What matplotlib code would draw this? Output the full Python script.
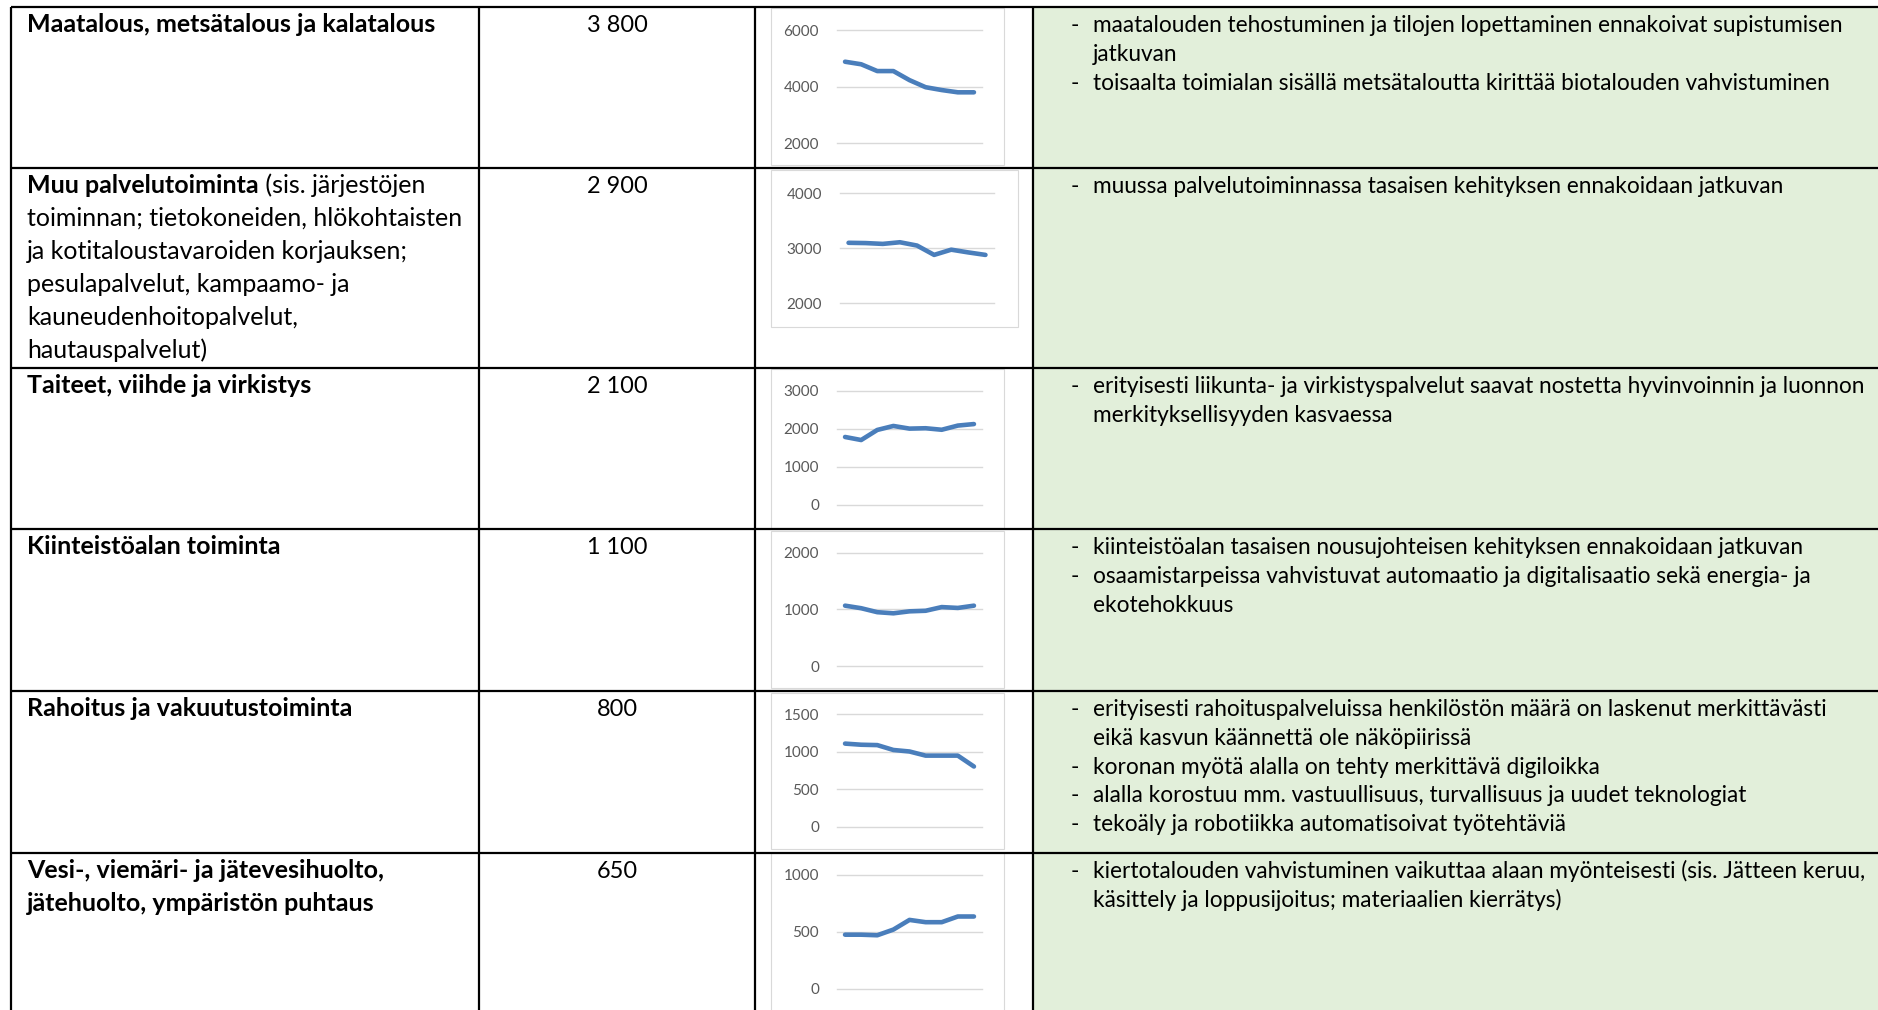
import matplotlib
matplotlib.use("Agg")
import matplotlib.pyplot as plt
from matplotlib.patches import Rectangle

plt.rcParams['font.family'] = ['Lato', 'DejaVu Sans']

W, H = 1878, 1010

# --- data ---
otsikot = [
    ["Maatalous, metsätalous ja kalatalous"],
    ["Muu palvelutoiminta"],
    ["Taiteet, viihde ja virkistys"],
    ["Kiinteistöalan toiminta"],
    ["Rahoitus ja vakuutustoiminta"],
    ["Vesi-, viemäri- ja jätevesihuolto,", "jätehuolto, ympäristön puhtaus"],
]
# toisen rivin tavallisella fontilla jatkuva teksti
muu_jatko = " (sis. järjestöjen"
muu_rivit = [
    "toiminnan; tietokoneiden, hlökohtaisten",
    "ja kotitaloustavaroiden korjauksen;",
    "pesulapalvelut, kampaamo- ja",
    "kauneudenhoitopalvelut,",
    "hautauspalvelut)",
]

tyolliset = ["3 800", "2 900", "2 100", "1 100", "800", "650"]

maatalous = [4880, 4790, 4550, 4550, 4230, 3980, 3880, 3800, 3800]
muu_palvelu = [3100, 3095, 3080, 3110, 3050, 2880, 2975, 2925, 2880]
taiteet = [1790, 1710, 1975, 2080, 2010, 2020, 1980, 2090, 2130]
kiinteisto = [1065, 1020, 950, 930, 965, 975, 1040, 1025, 1065]
rahoitus = [1110, 1095, 1090, 1025, 1005, 950, 950, 950, 805]
vesihuolto = [475, 475, 470, 520, 605, 585, 585, 635, 635]
sarjat = [maatalous, muu_palvelu, taiteet, kiinteisto, rahoitus, vesihuolto]

y_tikit = [
    [2000, 4000, 6000],
    [2000, 3000, 4000],
    [0, 1000, 2000, 3000],
    [0, 1000, 2000],
    [0, 500, 1000, 1500],
    [0, 500, 1000],
]

huomiot = [
    [["maatalouden tehostuminen ja tilojen lopettaminen ennakoivat supistumisen", "jatkuvan"],
     ["toisaalta toimialan sisällä metsätaloutta kirittää biotalouden vahvistuminen"]],
    [["muussa palvelutoiminnassa tasaisen kehityksen ennakoidaan jatkuvan"]],
    [["erityisesti liikunta- ja virkistyspalvelut saavat nostetta hyvinvoinnin ja luonnon",
      "merkityksellisyyden kasvaessa"]],
    [["kiinteistöalan tasaisen nousujohteisen kehityksen ennakoidaan jatkuvan"],
     ["osaamistarpeissa vahvistuvat automaatio ja digitalisaatio sekä energia- ja", "ekotehokkuus"]],
    [["erityisesti rahoituspalveluissa henkilöstön määrä on laskenut merkittävästi",
      "eikä kasvun käännettä ole näköpiirissä"],
     ["koronan myötä alalla on tehty merkittävä digiloikka"],
     ["alalla korostuu mm. vastuullisuus, turvallisuus ja uudet teknologiat"],
     ["tekoäly ja robotiikka automatisoivat työtehtäviä"]],
    [["kiertotalouden vahvistuminen vaikuttaa alaan myönteisesti (sis. Jätteen keruu,",
      "käsittely ja loppusijoitus; materiaalien kierrätys)"]],
]

# --- layout (pixels, origin top-left) ---
rivi_ylä = [7, 168, 368, 529, 691, 853]
sarake_x = [11, 479, 755, 1033]
kehys = [(771, 8, 1004, 165), (771, 170, 1018, 327), (771, 369, 1004, 528),
         (771, 531, 1004, 688), (771, 693, 1004, 849), (771, 853, 1004, 1020)]
alue = [(837, 30, 982, 143.3), (840, 193.3, 994, 303.3), (837, 391, 982, 505),
        (837, 552.7, 982, 666), (837, 714.3, 982, 827), (837, 875, 982, 988.7)]

FS_VAS = 18.0
FS_NUM = 16.9
FS_OIK = 16.3
VIHREA = "#E2EFDA"
SININEN = "#4A7EBB"

fig = plt.figure(figsize=(W / 100, H / 100), dpi=100)
ax = fig.add_axes([0, 0, 1, 1])
ax.set_xlim(0, W)
ax.set_ylim(H, 0)
ax.axis('off')

ax.add_patch(Rectangle((sarake_x[3], rivi_ylä[0]), W - sarake_x[3], H, facecolor=VIHREA, edgecolor='none'))

for y in rivi_ylä:
    ax.plot([sarake_x[0], W], [y, y], color='black', lw=1.6, solid_capstyle='butt')
for x in sarake_x:
    ax.plot([x, x], [rivi_ylä[0], H], color='black', lw=1.6, solid_capstyle='butt')

for i, top in enumerate(rivi_ylä):
    base = top + 25
    for j, rivi in enumerate(otsikot[i]):
        t = ax.text(27, base + j * 33, rivi, fontsize=FS_VAS, fontweight='bold', va='baseline', ha='left')
    if i == 1:
        ax.annotate(muu_jatko, xy=(1, base), xycoords=(t, 'data'), fontsize=FS_VAS, va='baseline', ha='left')
        for j, rivi in enumerate(muu_rivit):
            ax.text(27, base + (j + 1) * 33, rivi, fontsize=FS_VAS, va='baseline', ha='left')
    ax.text(617, base, tyolliset[i], fontsize=FS_NUM, va='baseline', ha='center')

    y = base
    for kohta in huomiot[i]:
        ax.text(1071, y, "-", fontsize=FS_OIK, va='baseline', ha='left')
        for rivi in kohta:
            ax.text(1093, y, rivi, fontsize=FS_OIK, va='baseline', ha='left')
            y += 28.8

    x0, y0, x1, y1 = kehys[i]
    ax.add_patch(Rectangle((x0, y0), x1 - x0, y1 - y0, facecolor='white', edgecolor='#D9D9D9', lw=0.8))

# sparklines
for i, sarja in enumerate(sarjat):
    x0, y0, x1, y1 = alue[i]
    sa = fig.add_axes([x0 / W, 1 - y1 / H, (x1 - x0) / W, (y1 - y0) / H])
    sa.patch.set_visible(False)
    for s in sa.spines.values():
        s.set_visible(False)
    tikit = y_tikit[i]
    for v in tikit:
        sa.axhline(v, color='#D9D9D9', lw=1.0, clip_on=False, zorder=1)
    sa.plot(range(len(sarja)), sarja, color=SININEN, lw=3.3,
            solid_capstyle='round', solid_joinstyle='round', zorder=3)
    sa.set_xlim(-0.5, len(sarja) - 0.5)
    sa.set_ylim(tikit[0], tikit[-1])
    sa.set_xticks([])
    sa.set_yticks(tikit)
    sa.set_yticklabels([str(v) for v in tikit])
    sa.tick_params(axis='y', length=0, pad=13, labelsize=11, labelcolor='#595959')

fig.savefig("out.png", dpi=100)
